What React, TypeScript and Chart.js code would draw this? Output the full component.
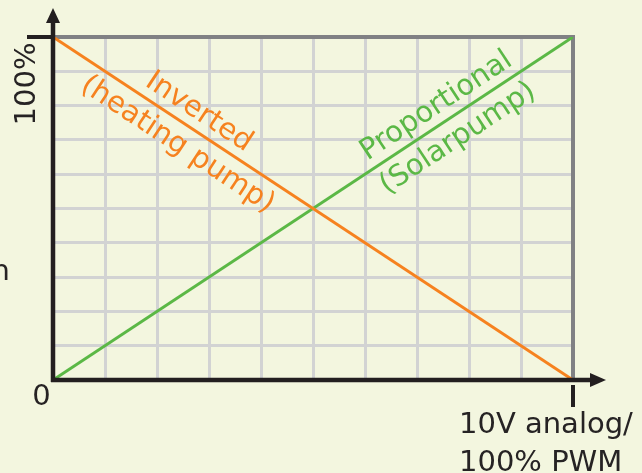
import React, { useEffect, useRef } from 'react';
import { Chart, registerables } from 'chart.js';
Chart.register(...registerables);

// ---- data ----
const xPoints = [0, 10];
const proportionalValues = [0, 100];
const invertedValues = [100, 0];
const proportionalLabel = ['Proportional', '(Solarpump)'];
const invertedLabel = ['Inverted', '(heating pump)'];
const yTopLabel = '100%';
const originLabel = '0';
const leftCutLabel = 'n';
const xEndLabel = ['10V analog/', '100% PWM'];

// ---- style ----
const BG = '#f3f6df';
const ORANGE = '#f6821f';
const GREEN = '#5bb846';
const DARK = '#231f20';
const TEXT = '#262324';
const BORDER = '#808184';
const GRID = '#d2d3d3';
const FONT = '"DejaVu Sans", Verdana, sans-serif';
const FS = 29;

function drawAlong(ctx: CanvasRenderingContext2D, x0: number, y0: number, x1: number, y1: number, frac: number, text: string, offset: number, color: string) {
  const px = x0 + (x1 - x0) * frac;
  const py = y0 + (y1 - y0) * frac;
  const ang = Math.atan2(y1 - y0, x1 - x0);
  ctx.save();
  ctx.translate(px, py);
  ctx.rotate(ang);
  ctx.fillStyle = color;
  ctx.font = `${FS}px ${FONT}`;
  ctx.textAlign = 'center';
  ctx.textBaseline = 'alphabetic';
  ctx.fillText(text, 0, -offset);
  ctx.restore();
}

const decor = {
  id: 'decor',
  beforeDraw(chart: any) {
    const { ctx, width, height } = chart;
    ctx.save();
    ctx.fillStyle = BG;
    ctx.fillRect(0, 0, width, height);
    ctx.restore();
  },
  beforeDatasetsDraw(chart: any) {
    const { ctx, chartArea } = chart;
    const { left, right, top, bottom } = chartArea;
    ctx.save();
    ctx.strokeStyle = BORDER;
    ctx.lineWidth = 4;
    ctx.beginPath();
    ctx.moveTo(left, top);
    ctx.lineTo(right, top);
    ctx.lineTo(right, bottom);
    ctx.stroke();
    ctx.restore();
  },
  afterDatasetsDraw(chart: any) {
    const { ctx, chartArea, scales } = chart;
    const { left, right, top, bottom } = chartArea;
    ctx.save();
    ctx.strokeStyle = DARK;
    ctx.fillStyle = DARK;
    ctx.lineWidth = 4.5;
    // y axis
    ctx.beginPath();
    ctx.moveTo(left, bottom + 2);
    ctx.lineTo(left, 20);
    ctx.stroke();
    ctx.beginPath();
    ctx.moveTo(left, 8);
    ctx.lineTo(left - 7, 23);
    ctx.lineTo(left + 7, 23);
    ctx.closePath();
    ctx.fill();
    // x axis
    ctx.beginPath();
    ctx.moveTo(left - 2, bottom);
    ctx.lineTo(592, bottom);
    ctx.stroke();
    ctx.beginPath();
    ctx.moveTo(606, bottom);
    ctx.lineTo(590, bottom - 7);
    ctx.lineTo(590, bottom + 7);
    ctx.closePath();
    ctx.fill();
    // ticks
    ctx.lineWidth = 4;
    ctx.beginPath();
    ctx.moveTo(27, top);
    ctx.lineTo(left - 2, top);
    ctx.stroke();
    ctx.beginPath();
    ctx.moveTo(right, bottom + 5);
    ctx.lineTo(right, 407);
    ctx.stroke();

    // text
    ctx.fillStyle = TEXT;
    ctx.font = `${FS}px ${FONT}`;
    ctx.textBaseline = 'alphabetic';
    ctx.textAlign = 'center';
    ctx.fillText(originLabel, 41.5, 405);
    ctx.textAlign = 'left';
    ctx.fillText(xEndLabel[0], 459, 433);
    ctx.fillText(xEndLabel[1], 459, 471);
    ctx.textAlign = 'right';
    ctx.fillText(leftCutLabel, 10, 280);
    ctx.save();
    ctx.translate(35, 84);
    ctx.rotate(-Math.PI / 2);
    ctx.textAlign = 'center';
    ctx.fillText(yTopLabel, 0, 0);
    ctx.restore();
    ctx.restore();

    const xs = scales.x;
    const ys = scales.y;
    const gx0 = xs.getPixelForValue(xPoints[0]);
    const gx1 = xs.getPixelForValue(xPoints[1]);
    // proportional
    const gy0 = ys.getPixelForValue(proportionalValues[0]);
    const gy1 = ys.getPixelForValue(proportionalValues[1]);
    drawAlong(ctx, gx0, gy0, gx1, gy1, 0.756, proportionalLabel[0], 10, GREEN);
    drawAlong(ctx, gx0, gy0, gx1, gy1, 0.756, proportionalLabel[1], -29, GREEN);
    // inverted
    const oy0 = ys.getPixelForValue(invertedValues[0]);
    const oy1 = ys.getPixelForValue(invertedValues[1]);
    drawAlong(ctx, gx0, oy0, gx1, oy1, 0.262, invertedLabel[0], 10, ORANGE);
    drawAlong(ctx, gx0, oy0, gx1, oy1, 0.262, invertedLabel[1], -29, ORANGE);
  },
};

export default function App() {
  const ref = useRef<HTMLCanvasElement | null>(null);
  useEffect(() => {
    if (!ref.current) return;
    const chart = new Chart(ref.current, {
      type: 'line',
      data: {
        datasets: [
          {
            label: 'Inverted',
            data: xPoints.map((x, i) => ({ x, y: invertedValues[i] })),
            borderColor: ORANGE,
            borderWidth: 3,
            pointRadius: 0,
            fill: false,
          },
          {
            label: 'Proportional',
            data: xPoints.map((x, i) => ({ x, y: proportionalValues[i] })),
            borderColor: GREEN,
            borderWidth: 3,
            pointRadius: 0,
            fill: false,
          },
        ],
      },
      options: {
        animation: false,
        responsive: false,
        maintainAspectRatio: false,
        layout: { padding: { left: 53, top: 37, right: 69, bottom: 93 } },
        plugins: { legend: { display: false }, tooltip: { enabled: false }, title: { display: false } },
        scales: {
          x: {
            type: 'linear',
            min: 0,
            max: 10,
            ticks: { display: false, stepSize: 1 },
            grid: { color: GRID, lineWidth: 3, drawTicks: false },
            border: { display: false },
          },
          y: {
            type: 'linear',
            min: 0,
            max: 100,
            ticks: { display: false, stepSize: 10 },
            grid: { color: GRID, lineWidth: 3, drawTicks: false },
            border: { display: false },
          },
        },
      },
      plugins: [decor],
    } as any);
    return () => chart.destroy();
  }, []);
  return (
    <div style={{ position: 'fixed', left: 0, top: 0, width: 642, height: 473, background: BG }}>
      <canvas ref={ref} width={642} height={473} style={{ display: 'block', width: 642, height: 473 }} />
    </div>
  );
}
